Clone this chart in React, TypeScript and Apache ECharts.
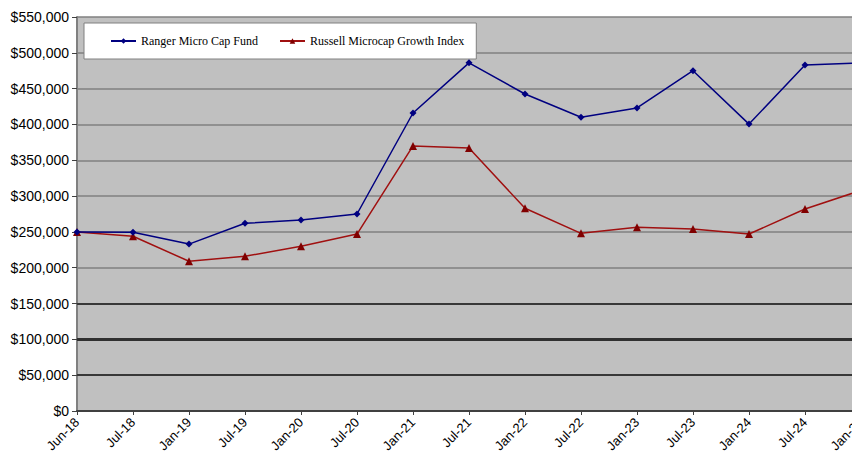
import React, { useEffect, useRef } from "react";
import * as echarts from "echarts";

const categories = [
  "Jun-18", "Jul-18", "Jan-19", "Jul-19", "Jan-20", "Jul-20", "Jan-21", "Jul-21",
  "Jan-22", "Jul-22", "Jan-23", "Jul-23", "Jan-24", "Jul-24", "Jan-25",
];
const rangerFund = [
  250000, 249500, 233000, 262000, 266500, 275000, 416000, 486000,
  442500, 410000, 423000, 475000, 400500, 483000, 486000,
];
const russellIndex = [
  250000, 244000, 209000, 216000, 230000, 247000, 370000, 367000,
  283000, 248000, 256500, 254000, 247000, 282000, 308000,
];
const darkGridValues = [50000, 100000, 150000];

export default function App() {
  const ref = useRef<HTMLDivElement>(null);
  useEffect(() => {
    if (!ref.current) return;
    const chart = echarts.init(ref.current, null, { renderer: "svg" });
    chart.setOption({
      animation: false,
      backgroundColor: "#ffffff",
      legend: {
        left: 84,
        top: 23,
        orient: "horizontal",
        backgroundColor: "#ffffff",
        borderColor: "#808080",
        borderWidth: 1,
        borderRadius: 0,
        padding: [11, 12, 11, 26],
        itemWidth: 25,
        itemHeight: 7,
        itemGap: 21,
        textStyle: { fontFamily: "Liberation Serif", fontSize: 12, color: "#000000", lineHeight: 14 },
        data: ["Ranger Micro Cap Fund", "Russell Microcap Growth Index"],
      },
      grid: { left: 77, top: 17, width: 784, bottom: 48, backgroundColor: "#c0c0c0", show: true, borderWidth: 0 },
      xAxis: {
        type: "category",
        data: categories,
        boundaryGap: false,
        axisLine: { show: true, lineStyle: { color: "#404040", width: 2 } },
        axisTick: { show: true, length: 4, alignWithLabel: true, lineStyle: { color: "#404040" } },
        axisLabel: {
          rotate: 45,
          fontFamily: "Liberation Sans",
          fontSize: 13,
          color: "#000000",
          margin: 9,
          interval: 0,
        },
        splitLine: { show: false },
      },
      yAxis: {
        type: "value",
        min: 0,
        max: 550000,
        interval: 50000,
        axisLine: { show: true, lineStyle: { color: "#808080", width: 2 } },
        axisTick: { show: true, length: 5, lineStyle: { color: "#404040" } },
        axisLabel: {
          fontFamily: "Liberation Sans",
          fontSize: 14,
          color: "#000000",
          margin: 8,
          formatter: (v: number) => "$" + v.toLocaleString("en-US"),
        },
        splitLine: { show: true, lineStyle: { color: "#808080", width: 1.5 } },
      },
      series: [
        {
          name: "Ranger Micro Cap Fund",
          type: "line",
          data: rangerFund,
          symbol: "diamond",
          symbolSize: 7,
          itemStyle: { color: "#000080" },
          lineStyle: { color: "#000080", width: 1.5 },
          z: 5,
          markLine: {
            silent: true,
            symbol: "none",
            label: { show: false },
            data: darkGridValues.map((v) => ({
              yAxis: v,
              lineStyle: { color: v === 100000 ? "#303030" : "#383838", width: v === 100000 ? 3 : 2, type: "solid" },
            })),
          },
        },
        {
          name: "Russell Microcap Growth Index",
          type: "line",
          data: russellIndex,
          symbol: "triangle",
          symbolSize: 8,
          itemStyle: { color: "#800000" },
          lineStyle: { color: "#a01010", width: 1.5 },
          z: 4,
        },
      ],
    });
    return () => chart.dispose();
  }, []);
  return (
    <div style={{ position: "fixed", left: 0, top: 0, width: 852, height: 459, overflow: "hidden", background: "#fff" }}>
      <div ref={ref} style={{ width: 880, height: 459 }} />
    </div>
  );
}
